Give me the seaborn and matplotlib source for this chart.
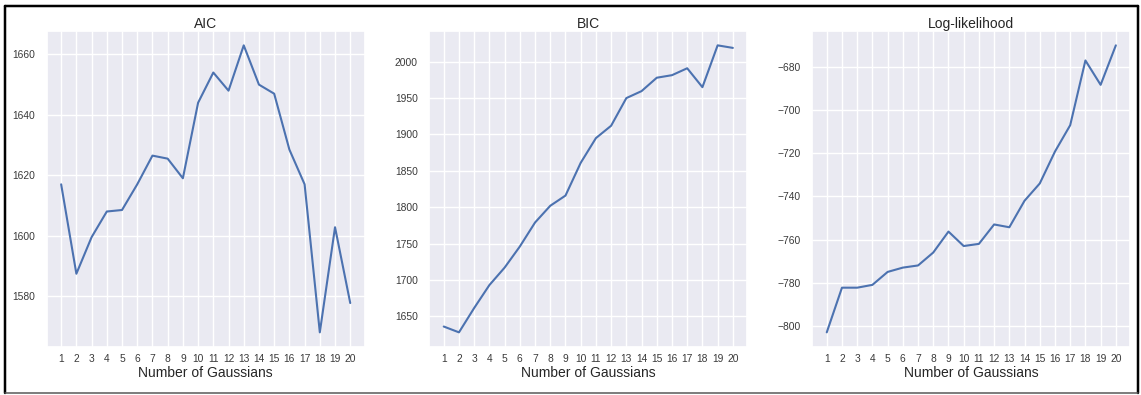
import matplotlib
matplotlib.use("Agg")
import matplotlib.pyplot as plt
from matplotlib.lines import Line2D
import numpy as np
import pandas as pd
import seaborn as sns

# Number of Gaussian components tried
n_components = list(range(1, 21))

# Information criteria and log-likelihood per model size
aic = [1617, 1587.4, 1599.5, 1608, 1608.5, 1617, 1626.5, 1625.5, 1619, 1644,
       1654, 1648, 1663, 1650, 1647, 1628.5, 1617, 1568, 1602.8, 1577.7]
bic = [1636, 1628, 1661.5, 1693, 1717, 1746, 1779, 1802, 1816, 1861,
       1895, 1912, 1950, 1959.6, 1978, 1981.5, 1991, 1965, 2022.5, 2019]
loglik = [-803, -782.3, -782.3, -781, -775, -773, -772, -766, -756.3, -763,
          -762, -753, -754.3, -742, -734, -719.2, -707, -677, -688.3, -670]

titles = ["AIC", "BIC", "Log-likelihood"]
xlabel = "Number of Gaussians"

sns.set_theme(style="darkgrid")
plt.rcParams["font.family"] = ["Liberation Sans", "DejaVu Sans"]

W, H = 1141, 395
fig = plt.figure(figsize=(W / 100, H / 100), dpi=100)

lefts = [46.7, 429.3, 812.3]
ax_w = 318.0
top_px, bottom_px = 31.0, 346.7

series = [aic, bic, loglik]
for left, title, values in zip(lefts, titles, series):
    ax = fig.add_axes([left / W, 1 - bottom_px / H, ax_w / W, (bottom_px - top_px) / H])
    df = pd.DataFrame({"n": n_components, "value": values})
    sns.lineplot(data=df, x="n", y="value", ax=ax, color="#4C72B0", linewidth=1.5)
    ax.set_xticks(n_components)
    ax.set_title(title, fontsize=10, color="#262626", pad=2.5)
    ax.set_xlabel(xlabel, fontsize=10, color="#262626", labelpad=1)
    ax.set_ylabel("")
    ax.tick_params(axis="x", labelsize=7.4, length=0, pad=5.6, colors="#3a3a3a")
    ax.tick_params(axis="y", labelsize=7.4, length=0, pad=8.2, colors="#3a3a3a")

# outer frame around the figure
fx = lambda px: px / W
fy = lambda py: 1 - py / H
frame = [
    ((fx(4.5), fx(1138)), (fy(6), fy(6)), "black", 2.5),
    ((fx(4.5), fx(4.5)), (fy(6), fy(392.5)), "black", 2.5),
    ((fx(1138), fx(1138)), (fy(6), fy(392.5)), "black", 2.5),
    ((fx(4.5), fx(1138)), (fy(392.5), fy(392.5)), "#555555", 1.5),
]
for xs, ys, c, lw in frame:
    fig.add_artist(Line2D(xs, ys, transform=fig.transFigure, color=c, linewidth=lw * 0.72))

fig.savefig("out.png", dpi=100)
